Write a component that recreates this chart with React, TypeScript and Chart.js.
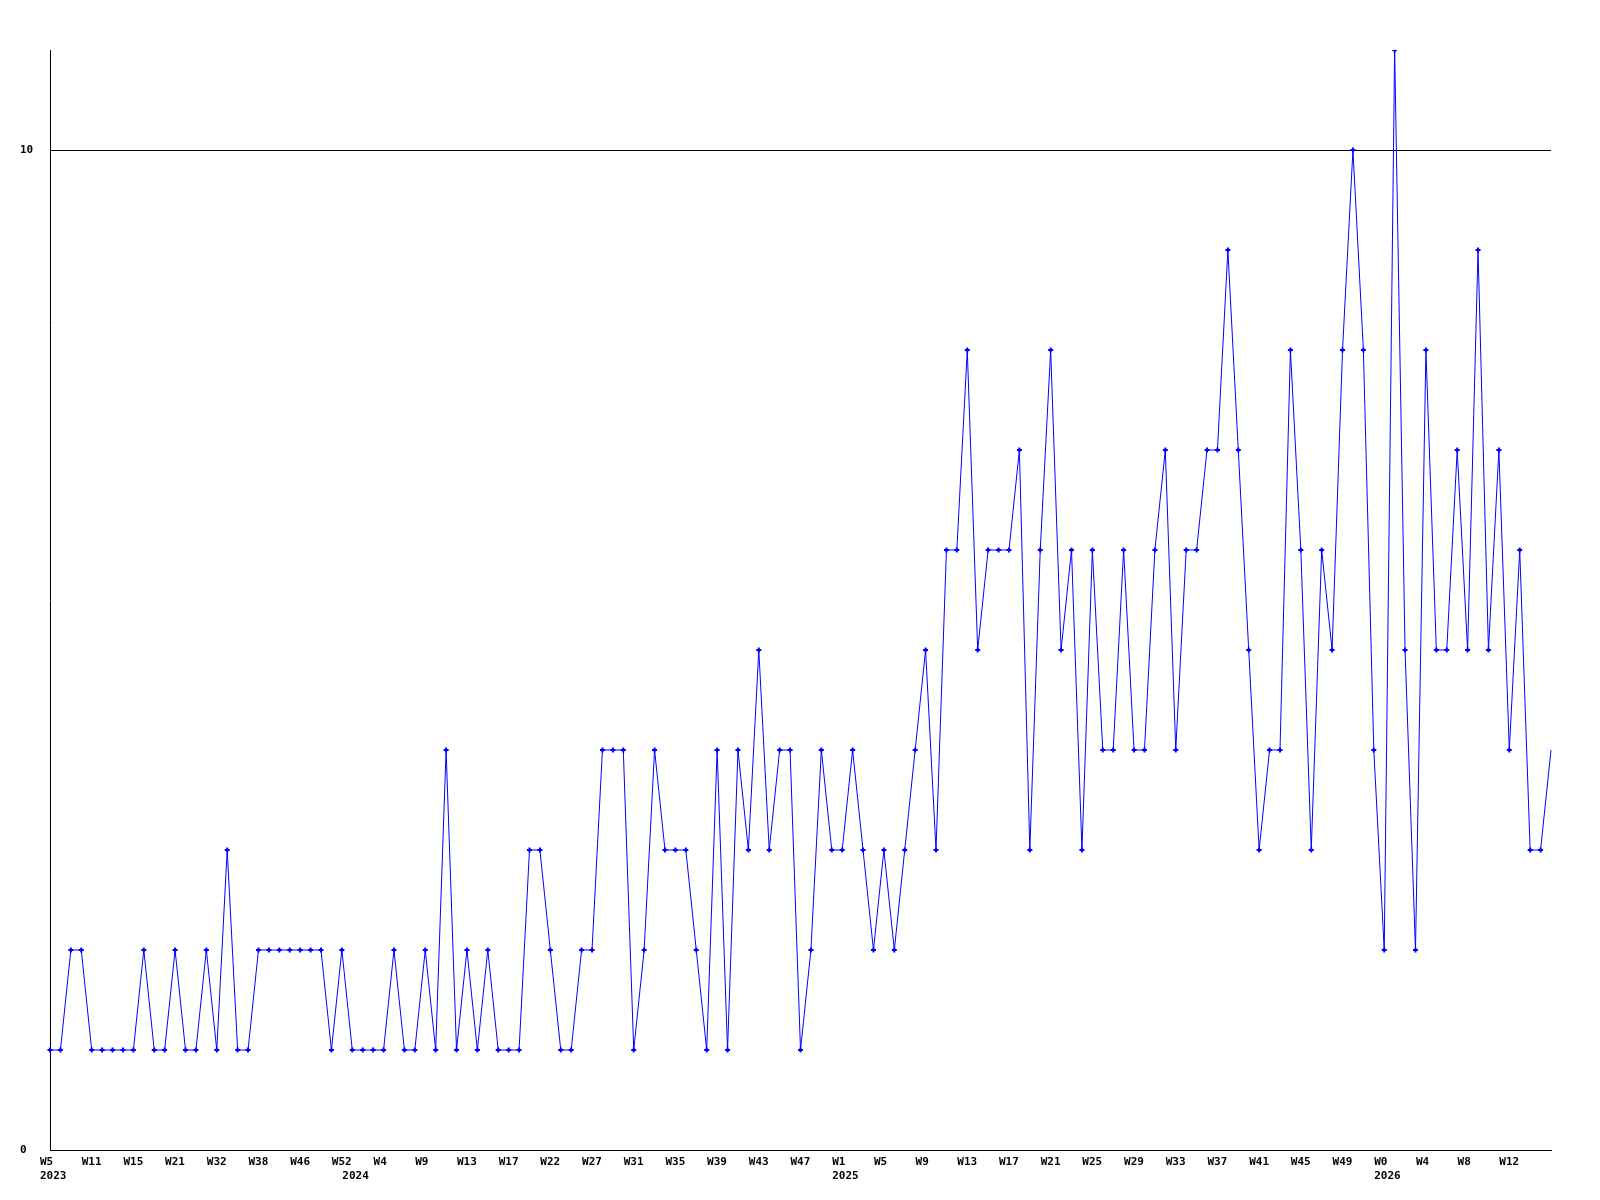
import React, { useEffect, useRef } from "react";
import { Chart, registerables } from "chart.js";

Chart.register(...registerables);

// Weekly counts, one value per week that has data (category axis)
const weeklyCounts: number[] = [
  1, 1, 2, 2, 1, 1, 1, 1, 1, 2,
  1, 1, 2, 1, 1, 2, 1, 3, 1, 1,
  2, 2, 2, 2, 2, 2, 2, 1, 2, 1,
  1, 1, 1, 2, 1, 1, 2, 1, 4, 1,
  2, 1, 2, 1, 1, 1, 3, 3, 2, 1,
  1, 2, 2, 4, 4, 4, 1, 2, 4, 3,
  3, 3, 2, 1, 4, 1, 4, 3, 5, 3,
  4, 4, 1, 2, 4, 3, 3, 4, 3, 2,
  3, 2, 3, 4, 5, 3, 6, 6, 8, 5,
  6, 6, 6, 7, 3, 6, 8, 5, 6, 3,
  6, 4, 4, 6, 4, 4, 6, 7, 4, 6,
  6, 7, 7, 9, 7, 5, 3, 4, 4, 8,
  6, 3, 6, 5, 8, 10, 8, 4, 2, 11,
  5, 2, 8, 5, 5, 7, 5, 9, 5, 7,
  4, 6, 3, 3, 4,
];

// Week tick labels, shown on every 4th category
const weekTickLabels: string[] = [
  "W5", "W11", "W15", "W21", "W32", "W38", "W46", "W52", "W4", "W9",
  "W13", "W17", "W22", "W27", "W31", "W35", "W39", "W43", "W47", "W1",
  "W5", "W9", "W13", "W17", "W21", "W25", "W29", "W33", "W37", "W41",
  "W45", "W49", "W0", "W4", "W8", "W12",
];
const tickEvery = 4;

// Year labels and the category index where each year starts
const yearLabels: string[] = ["2023", "2024", "2025", "2026"];
const yearStartIndex: number[] = [0, 29, 76, 128];

// Y axis tick values
const yTickValues: number[] = [0, 10];
const yMin = 0;
const yMax = 11;

const categories: string[] = weeklyCounts.map((_, i) => String(i));

export default function App() {
  const canvasRef = useRef<HTMLCanvasElement | null>(null);

  useEffect(() => {
    if (!canvasRef.current) return;
    const font = { family: "'DejaVu Sans Mono', monospace", size: 11, weight: "bold" as const, lineHeight: 1.3 };
    const lastIdx = weeklyCounts.length - 1;
    const chart = new Chart(canvasRef.current, {
      type: "line",
      data: {
        labels: categories,
        datasets: [
          {
            data: weeklyCounts,
            borderColor: "#0000ff",
            backgroundColor: "#0000ff",
            borderWidth: 1,
            tension: 0,
            fill: false,
            pointStyle: "cross",
            pointRadius: (ctx: any) => (ctx.dataIndex === lastIdx ? 0 : 2.5),
            pointBorderWidth: 2,
            pointBorderColor: "#0000ff",
            pointBackgroundColor: "#0000ff",
          },
        ],
      },
      options: {
        responsive: false,
        animation: false,
        events: [],
        layout: { padding: { left: 20, right: 49, top: 50, bottom: 0 } },
        plugins: {
          legend: { display: false },
          tooltip: { enabled: false },
          title: { display: false },
        },
        scales: {
          x: {
            type: "category",
            offset: false,
            grid: { display: false, drawTicks: false },
            border: { display: true, color: "#000", width: 1 },
            ticks: {
              autoSkip: false,
              maxRotation: 0,
              minRotation: 0,
              align: "start",
              labelOffset: -10,
              padding: 5,
              color: "#000",
              font,
              callback: (_value: any, index: number) => {
                const week = index % tickEvery === 0 ? weekTickLabels[index / tickEvery] ?? "" : "";
                const y = yearStartIndex.indexOf(index);
                if (y >= 0) return [week, yearLabels[y]];
                return week;
              },
            },
            afterFit: (scale: any) => {
              scale.height = 50;
              scale.paddingLeft = 0;
              scale.paddingRight = 0;
            },
          },
          y: {
            type: "linear",
            min: yMin,
            max: yMax,
            grid: { display: true, color: "#000", lineWidth: 1, drawTicks: false },
            border: { display: true, color: "#000", width: 1 },
            afterBuildTicks: (scale: any) => {
              scale.ticks = yTickValues.map((v) => ({ value: v }));
            },
            ticks: {
              crossAlign: "far",
              padding: 0,
              color: "#000",
              font,
            },
            afterFit: (scale: any) => {
              scale.width = 30;
              scale.paddingTop = 0;
              scale.paddingBottom = 0;
            },
          },
        },
      },
    } as any);
    return () => chart.destroy();
  }, []);

  return (
    <div style={{ position: "absolute", left: 0, top: 0, width: 1600, height: 1200, background: "#fff" }}>
      <canvas ref={canvasRef} width={1600} height={1200} style={{ width: 1600, height: 1200, display: "block" }} />
    </div>
  );
}
